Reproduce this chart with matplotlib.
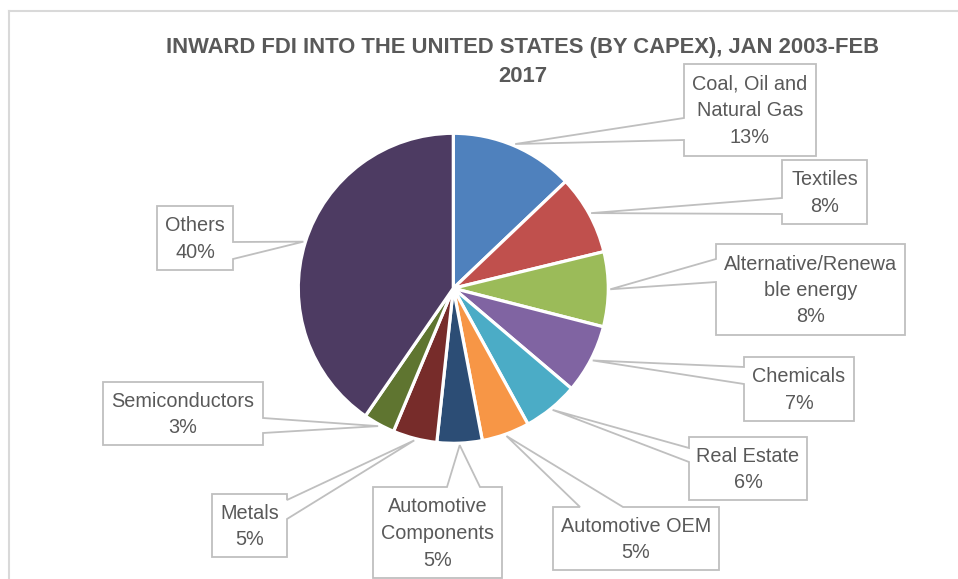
import matplotlib
matplotlib.use("Agg")
import matplotlib.pyplot as plt
from matplotlib.patches import Polygon
from matplotlib.lines import Line2D
from matplotlib import font_manager
import numpy as np

# ---------------- data ----------------
categories = ["Coal, Oil and Natural Gas", "Textiles", "Alternative/Renewable energy",
              "Chemicals", "Real Estate", "Automotive OEM", "Automotive Components",
              "Metals", "Semiconductors", "Others"]
label_text = ["Coal, Oil and\nNatural Gas", "Textiles", "Alternative/Renewa\nble energy",
              "Chemicals", "Real Estate", "Automotive OEM", "Automotive\nComponents",
              "Metals", "Semiconductors", "Others"]
values = [12.9, 8.3, 7.8, 7.2, 5.8, 5.0, 4.7, 4.6, 3.3, 40.4]
colors = ["#4F81BD", "#C0504D", "#9BBB59", "#8064A2", "#4BACC6",
          "#F79646", "#2C4D75", "#772C2A", "#5F7530", "#4D3B62"]
title_lines = ["INWARD FDI INTO THE UNITED STATES (BY CAPEX), JAN 2003-FEB", "2017"]

# ---------------- layout (pixels, y down) ----------------
W, H = 958, 579
cx, cy, R = 453.3, 288.3, 155
R_TIP = 157
title_baselines = [53, 82]
# box x0, y0, x1, y1, side of pointer, base1, base2
callouts = [
    (684, 64, 816, 156, "left", 118, 140),
    (782, 160, 867, 224, "left", 198, 214),
    (716, 244, 905, 335, "left", 259, 282),
    (744, 357, 854, 421, "left", 367, 384),
    (689, 437, 807, 500, "left", 448, 462),
    (553, 507, 719, 570, "top", 580, 623),
    (373, 487, 502, 578, "top", 447, 480),
    (212, 494, 287, 557, "right", 500, 519),
    (103, 382, 263, 445, "right", 418, 433),
    (157, 206, 233, 270, "right", 242, 259),
]

avail = {f.name for f in font_manager.fontManager.ttflist}
if "Liberation Sans Narrow" in avail:
    FONT, LSIZE, TSIZE, LSP = "Liberation Sans Narrow", 17, 19, 1.1
else:
    FONT, LSIZE, TSIZE, LSP = "Liberation Sans", 14.3, 15.8, 1.5

TXT = "#595959"
EDGE = "#BFBFBF"

fig = plt.figure(figsize=(W / 100, H / 100), dpi=100)
ax = fig.add_axes([0, 0, 1, 1])
wedges, _ = ax.pie(values, colors=colors, startangle=-90, counterclock=True,
                   center=(cx, cy), radius=R,
                   wedgeprops=dict(edgecolor="white", linewidth=2.3))
ax.set_xlim(0, W)
ax.set_ylim(H, 0)
ax.set_aspect("equal")
ax.axis("off")

# chart border (extends past right / bottom)
ax.add_line(Line2D([9.5, W + 5], [10.5, 10.5], color="#D9D9D9", lw=1.5))
ax.add_line(Line2D([9.5, 9.5], [10.5, H + 5], color="#D9D9D9", lw=1.5))

for w, v, txt, (x0, y0, x1, y1, side, b1, b2) in zip(wedges, values, label_text, callouts):
    th = np.deg2rad((w.theta1 + w.theta2) / 2)
    tx, ty = cx + R_TIP * np.cos(th), cy + R_TIP * np.sin(th)
    if side == "left":
        pts = [(x0, y0), (x1, y0), (x1, y1), (x0, y1), (x0, b2), (tx, ty), (x0, b1)]
    elif side == "right":
        pts = [(x0, y0), (x1, y0), (x1, b1), (tx, ty), (x1, b2), (x1, y1), (x0, y1)]
    else:  # top
        pts = [(x0, y0), (b1, y0), (tx, ty), (b2, y0), (x1, y0), (x1, y1), (x0, y1)]
    ax.add_patch(Polygon(pts, closed=True, facecolor="white", edgecolor=EDGE,
                         lw=1.3, joinstyle="miter", zorder=5))
    ax.text((x0 + x1) / 2, (y0 + y1) / 2 + 1, f"{txt}\n{round(v)}%", ha="center", va="center",
            multialignment="center", fontsize=LSIZE, family=FONT, color=TXT, zorder=6,
            linespacing=LSP)

for line, yb in zip(title_lines, title_baselines):
    fig.text(523 / W, 1 - yb / H, line, ha="center", va="baseline", fontsize=TSIZE,
             family=FONT, weight="bold", color=TXT)

fig.savefig("out.png", dpi=100)
